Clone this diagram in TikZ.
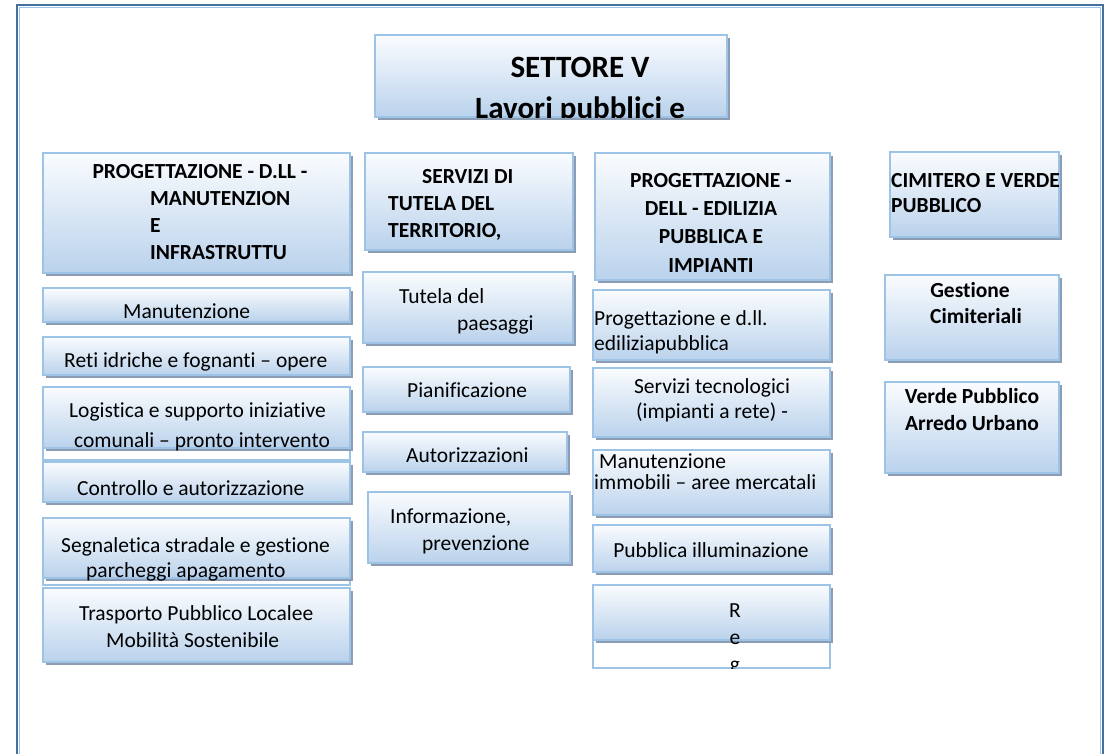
\documentclass[tikz,border=0pt]{standalone}
\usepackage{fontspec}
\setmainfont{Carlito}[Ligatures={TeX,NoCommon}]
\usetikzlibrary{fit, shadows}

\definecolor{frameblue}{RGB}{65,113,156}
\definecolor{cardline}{RGB}{157,195,230}
\definecolor{cardtop}{RGB}{250,252,254}
\definecolor{cardbot}{RGB}{186,210,236}
\definecolor{shadowgray}{RGB}{140,156,178}

\begin{document}
\begin{tikzpicture}[x=1pt, y=-1pt,
    card/.style={fit={#1}, inner sep=0pt, draw=cardline, line width=1.6pt,
      top color=cardtop, bottom color=cardbot,
      drop shadow={shadow xshift=3pt, shadow yshift=-3pt, opacity=1, fill=shadowgray}},
    spill/.style={fit={#1}, inner sep=0pt, draw=cardline, line width=1.6pt, fill=white},
    body/.style={font=\fontsize{21.5}{26}\selectfont, inner sep=0pt},
    head/.style={font=\fontsize{21.5}{26}\selectfont\bfseries, inner sep=0pt},
    titletext/.style={font=\fontsize{31}{38}\selectfont\bfseries, inner sep=0pt}]
    \useasboundingbox (0,0) rectangle (1108,753);
    % cornice della pagina
    \draw[frameblue, line width=2.6pt] (17,770) -- (17,5) -- (1103,5) -- (1103,770);
    \draw[cardline, line width=0.8pt] (19.5,770) -- (19.5,7.5) -- (1100.5,7.5) -- (1100.5,770);

    % settore
    \node[card={(375,35) (727,117)}] (sett) {};
    \begin{scope}
        \clip (sett.north west) rectangle (sett.south east);
        \node[titletext, anchor=base] (sett-l1) at (580,77) {SETTORE V};
        \node[titletext, anchor=base] (sett-l2) at (580,118) {Lavori pubblici e};
    \end{scope}

    % colonna 1: infrastrutture
    \node[card={(43,153) (350,273)}] (infra) {};
    \node[head, anchor=base] (infra-l1) at (200,178) {PROGETTAZIONE - D.LL -};
    \node[head, anchor=base west] (infra-l2) at (150,205) {MANUTENZION};
    \node[head, anchor=base west] (infra-l3) at (150,232) {E};
    \node[head, anchor=base west] (infra-l4) at (150,259) {INFRASTRUTTU};

    \node[card={(43,288) (350,322)}] (manut) {};
    \node[body, anchor=base west] (manut-l1) at (123,318) {Manutenzione};

    \node[card={(43,337) (350,375)}] (reti) {};
    \node[body, anchor=base west] (reti-l1) at (64,367) {Reti idriche e fognanti -- opere};

    % il testo esce dal riquadro
    \node[spill={(43,387) (350,460)}] (logi-x) {};
    \node[card={(43,387) (350,448)}] (logi) {};
    \node[body, anchor=base west] (logi-l1) at (69,417) {Logistica e supporto iniziative};
    \node[body, anchor=base west] (logi-l2) at (74,447) {comunali -- pronto intervento};

    \node[card={(43,462) (350,502)}] (contr) {};
    \node[body, anchor=base west] (contr-l1) at (77,495) {Controllo e autorizzazione};

    \node[spill={(43,518) (350,585)}] (segn-x) {};
    \node[card={(43,518) (350,578)}] (segn) {};
    \node[body, anchor=base west] (segn-l1) at (61,552) {Segnaletica stradale e gestione};
    \node[body, anchor=base west] (segn-l2) at (86,577) {parcheggi apagamento};

    \node[card={(43,588) (350,662)}] (tpl) {};
    \node[body, anchor=base west] (tpl-l1) at (79,620) {Trasporto Pubblico Localee};
    \node[body, anchor=base west] (tpl-l2) at (106,647) {Mobilità Sostenibile};

    % colonna 2: tutela del territorio
    \node[card={(365,153) (573,250)}] (terr) {};
    \node[head, anchor=base west] (terr-l1) at (422,183) {SERVIZI DI};
    \node[head, anchor=base west] (terr-l2) at (388,210) {TUTELA DEL};
    \node[head, anchor=base west] (terr-l3) at (388,237) {TERRITORIO,};

    \node[card={(363,272) (573,343)}] (paes) {};
    \node[body, anchor=base west] (paes-l1) at (399,303) {Tutela del};
    \node[body, anchor=base west] (paes-l2) at (457,330) {paesaggi};

    \node[card={(363,367) (570,412)}] (pian) {};
    \node[body, anchor=base west] (pian-l1) at (407,397) {Pianificazione};

    \node[card={(363,432) (567,472)}] (autor) {};
    \node[body, anchor=base west] (autor-l1) at (406,462) {Autorizzazioni};

    \node[card={(368,492) (570,563)}] (info) {};
    \node[body, anchor=base west] (info-l1) at (390,523) {Informazione,};
    \node[body, anchor=base west] (info-l2) at (422,550) {prevenzione};

    % colonna 3: edilizia pubblica
    \node[card={(595,153) (830,280)}] (edil) {};
    \node[head, anchor=base] (edil-l1) at (711,187) {PROGETTAZIONE -};
    \node[head, anchor=base] (edil-l2) at (711,215) {DELL - EDILIZIA};
    \node[head, anchor=base] (edil-l3) at (711,243) {PUBBLICA E};
    \node[head, anchor=base] (edil-l4) at (711,272) {IMPIANTI};

    \node[card={(593,290) (830,360)}] (pdll) {};
    \node[body, anchor=base west] (pdll-l1) at (594,325) {Progettazione e d.ll.};
    \node[body, anchor=base west] (pdll-l2) at (594,350) {ediliziapubblica};

    \node[card={(593,368) (830,437)}] (tecn) {};
    \node[body, anchor=base] (tecn-l1) at (712,393) {Servizi tecnologici};
    \node[body, anchor=base] (tecn-l2) at (712,418) {(impianti a rete) -};

    \node[card={(593,450) (830,515)}] (immo) {};
    \node[body, anchor=base west] (immo-l1) at (599,468) {Manutenzione};
    \node[body, anchor=base west] (immo-l2) at (594,489) {immobili -- aree mercatali};

    \node[card={(593,525) (830,572)}] (illu) {};
    \node[body, anchor=base] (illu-l1) at (711,557) {Pubblica illuminazione};

    \node[spill={(593,585) (830,668)}] (reg-x) {};
    \node[card={(593,585) (830,640)}] (reg) {};
    \begin{scope}
        \clip (reg-x.north west) rectangle (reg-x.south east);
        \node[body, anchor=base] (reg-l1) at (735,617) {R};
        \node[body, anchor=base] (reg-l2) at (735,644) {e};
        \node[body, anchor=base] (reg-l3) at (735,671) {g};
    \end{scope}

    % colonna 4: cimitero e verde
    \node[card={(890,152) (1059,237)}] (cimi) {};
    \node[head, anchor=base west] (cimi-l1) at (891,187) {CIMITERO E VERDE};
    \node[head, anchor=base west] (cimi-l2) at (891,212) {PUBBLICO};

    \node[card={(885,275) (1059,360)}] (gest) {};
    \node[head, anchor=base] (gest-l1) at (970,297) {Gestione};
    \node[head, anchor=base] (gest-l2) at (976,323) {Cimiteriali};

    \node[card={(885,382) (1059,473)}] (verde) {};
    \node[head, anchor=base] (verde-l1) at (972,403) {Verde Pubblico};
    \node[head, anchor=base] (verde-l2) at (972,430) {Arredo Urbano};
\end{tikzpicture}
\end{document}
